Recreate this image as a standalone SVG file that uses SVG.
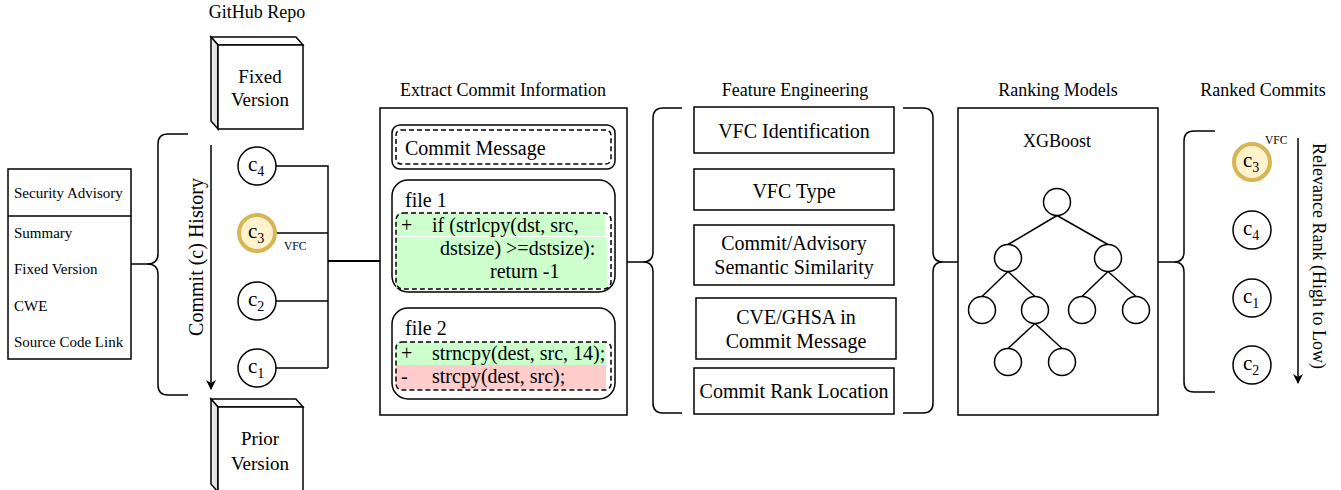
<svg xmlns="http://www.w3.org/2000/svg" width="1341" height="490" viewBox="0 0 1341 490">
<defs>
<style>
text{font-family:"Liberation Serif","Times New Roman",serif;fill:#000}
.ttl{font-size:18px}
.t20{font-size:20px}
.t19{font-size:19px}
.t15{font-size:15px}
.vfc{font-size:11.5px}
.cc{font-size:21px}
.sub{font-size:14px}
.box{fill:#fff;stroke:#000;stroke-width:1.5}
.ln{fill:none;stroke:#000;stroke-width:1.5}
.circ{fill:#fff;stroke:#000;stroke-width:1.5}
.gold{fill:#fff2cc;stroke:#d6b656;stroke-width:4}
.dash{fill:none;stroke:#000;stroke-width:1.5;stroke-dasharray:5 3}
.mid{text-anchor:middle}
</style>
<linearGradient id="side" x1="0" y1="0" x2="1" y2="0">
<stop offset="0" stop-color="#f2f2f2"/>
<stop offset="1" stop-color="#d9d9d9"/>
</linearGradient>
<marker id="arr" viewBox="0 0 10 10" refX="9" refY="5" markerWidth="10" markerHeight="10" markerUnits="userSpaceOnUse" orient="auto">
<path d="M0,0 L10,5 L0,10 L3,5 Z" fill="#000"/>
</marker>
</defs>
<rect width="1341" height="490" fill="#fff"/>

<g id="connectors">
<path class="ln" d="M131,264 L147,264 Q158,264 158,254 L158,144 Q158,134 168,134 L188,134 M147,264 Q158,264 158,274 L158,385 Q158,395 168,395 L188,395"/>
<path class="ln" d="M276,166 L328,166 L328,368 M276,233 L328,233 M276,301 L328,301 M276,368 L328,368"/>
<path class="ln" style="stroke-width:2" d="M328,261 L380,261"/>
<path class="ln" d="M627,262 L643,262 Q653,262 653,252 L653,118 Q653,108 663,108 L682,108 M643,262 Q653,262 653,272 L653,403 Q653,413 663,413 L682,413"/>
<path class="ln" d="M958,262 L943,262 Q933,262 933,252 L933,118 Q933,108 923,108 L903,108 M943,262 Q933,262 933,272 L933,403 Q933,413 923,413 L903,413"/>
<path class="ln" d="M1158,262 L1174,262 Q1184,262 1184,252 L1184,141 Q1184,131 1194,131 L1215,131 M1174,262 Q1184,262 1184,272 L1184,382 Q1184,392 1194,392 L1215,392"/>
<line class="ln" x1="211" y1="145" x2="211" y2="389" marker-end="url(#arr)"/>
<line class="ln" x1="1298" y1="138" x2="1298" y2="383" marker-end="url(#arr)"/>
</g>

<text class="ttl mid" x="257" y="18">GitHub Repo</text>

<g id="fixed-version">
<polygon points="211,37 296,37 303,45 218,45" fill="#fff" stroke="#000" stroke-width="1.5"/>
<polygon points="211,37 218,45 218,129 211,121" fill="url(#side)" stroke="#000" stroke-width="1.5"/>
<rect class="box" x="218" y="45" width="85" height="84"/>
<text class="t19 mid" x="260" y="83">Fixed</text>
<text class="t19 mid" x="260" y="106">Version</text>
</g>

<g id="prior-version">
<polygon points="211,399 296,399 303,407 218,407" fill="#fff" stroke="#000" stroke-width="1.5"/>
<polygon points="211,399 218,407 218,492 211,484" fill="url(#side)" stroke="#000" stroke-width="1.5"/>
<rect class="box" x="218" y="407" width="85" height="85"/>
<text class="t19 mid" x="260" y="445">Prior</text>
<text class="t19 mid" x="260" y="470">Version</text>
</g>

<g id="security-advisory">
<rect class="box" x="8" y="169" width="123" height="190"/>
<line class="ln" x1="8" y1="216" x2="131" y2="216"/>
<text class="t15" x="14" y="198">Security Advisory</text>
<text class="t15" x="14" y="238">Summary</text>
<text class="t15" x="14" y="274">Fixed Version</text>
<text class="t15" x="14" y="311">CWE</text>
<text class="t15" x="14" y="347">Source Code Link</text>
</g>

<g id="commit-history-label">
<text class="t20 mid" transform="translate(203,257) rotate(-90)">Commit (c) History</text>
</g>

<g id="c4">
<circle class="circ" cx="257" cy="166" r="19"/>
<text class="cc" x="248" y="171">c<tspan class="sub" dy="5">4</tspan></text>
</g>
<g id="c3">
<circle class="gold" cx="257" cy="233" r="18"/>
<text class="cc" x="248" y="238">c<tspan class="sub" dy="5">3</tspan></text>
<text class="vfc" x="284" y="250">VFC</text>
</g>
<g id="c2">
<circle class="circ" cx="257" cy="301" r="19"/>
<text class="cc" x="248" y="306">c<tspan class="sub" dy="5">2</tspan></text>
</g>
<g id="c1">
<circle class="circ" cx="257" cy="368" r="19"/>
<text class="cc" x="248" y="373">c<tspan class="sub" dy="5">1</tspan></text>
</g>

<g id="extract-commit-information">
<text class="ttl mid" x="503" y="96">Extract Commit Information</text>
<rect class="box" x="380" y="108" width="247" height="307"/>
<rect class="box" x="392" y="125" width="223" height="44" rx="8"/>
<rect class="dash" x="396" y="130" width="215" height="34" rx="5"/>
<text class="t20" x="405" y="155">Commit Message</text>

<rect class="box" x="392" y="180" width="223" height="112" rx="16"/>
<text class="t20" x="405" y="207">file 1</text>
<rect x="396" y="213" width="209" height="23" fill="#ccffcc"/>
<rect x="396" y="237" width="211" height="51" fill="#ccffcc"/>
<rect class="dash" x="396" y="213" width="215" height="76" rx="7"/>
<text class="t20" x="401" y="232">+</text>
<text class="t20" x="432" y="232">if (strlcpy(dst, src,</text>
<text class="t20" x="440" y="255">dstsize) &gt;=dstsize):</text>
<text class="t20" x="490" y="278">return -1</text>

<rect class="box" x="392" y="308" width="223" height="91" rx="16"/>
<text class="t20" x="405" y="335">file 2</text>
<rect x="396" y="342" width="210" height="23" fill="#ccffcc"/>
<rect x="396" y="365" width="210" height="24" fill="#ffcccc"/>
<rect class="dash" x="396" y="342" width="215" height="48" rx="6"/>
<text class="t20" x="401" y="360">+</text>
<text class="t20" x="432" y="360">strncpy(dest, src, 14);</text>
<text class="t20" x="401" y="383">-</text>
<text class="t20" x="432" y="383">strcpy(dest, src);</text>
</g>

<text class="ttl mid" x="795" y="96">Feature Engineering</text>
<g id="fe-vfc-identification">
<rect class="box" x="694" y="107" width="200" height="46"/>
<text class="t20 mid" x="794" y="138">VFC Identification</text>
</g>
<g id="fe-vfc-type">
<rect class="box" x="694" y="169" width="200" height="41"/>
<text class="t20 mid" x="794" y="198">VFC Type</text>
</g>
<g id="fe-semantic-similarity">
<rect class="box" x="694" y="225" width="200" height="60"/>
<text class="t20 mid" x="794" y="250">Commit/Advisory</text>
<text class="t20 mid" x="794" y="274">Semantic Similarity</text>
</g>
<g id="fe-cve-ghsa">
<rect class="box" x="696" y="298" width="200" height="61"/>
<text class="t20 mid" x="796" y="324">CVE/GHSA in</text>
<text class="t20 mid" x="796" y="348">Commit Message</text>
</g>
<g id="fe-commit-rank-location">
<rect class="box" x="694" y="368" width="200" height="46"/>
<text class="t20 mid" x="794" y="398">Commit Rank Location</text>
</g>

<g id="ranking-models">
<text class="ttl mid" x="1058" y="96">Ranking Models</text>
<rect class="box" x="958" y="108" width="200" height="307"/>
<text class="ttl mid" x="1057" y="147">XGBoost</text>
<path class="ln" d="M1057,215.5 L1008,244.5 M1057,215.5 L1108,244.5 M1008,271.5 L982,296.5 M1008,271.5 L1035,296.5 M1108,271.5 L1082,296.5 M1108,271.5 L1136,296.5 M1035,323.5 L1008,348.5 M1035,323.5 L1062,348.5"/>
<circle class="circ" cx="1057" cy="202" r="13.5"/>
<circle class="circ" cx="1008" cy="258" r="13.5"/>
<circle class="circ" cx="1108" cy="258" r="13.5"/>
<circle class="circ" cx="982" cy="310" r="13.5"/>
<circle class="circ" cx="1035" cy="310" r="13.5"/>
<circle class="circ" cx="1082" cy="310" r="13.5"/>
<circle class="circ" cx="1136" cy="310" r="13.5"/>
<circle class="circ" cx="1008" cy="362" r="13.5"/>
<circle class="circ" cx="1062" cy="362" r="13.5"/>
</g>

<text class="ttl mid" x="1263" y="96">Ranked Commits</text>
<g id="rc3">
<circle class="gold" cx="1252" cy="162" r="18"/>
<text class="cc" x="1243" y="167">c<tspan class="sub" dy="5">3</tspan></text>
<text class="vfc" x="1265" y="144">VFC</text>
</g>
<g id="rc4">
<circle class="circ" cx="1252" cy="230" r="19"/>
<text class="cc" x="1243" y="235">c<tspan class="sub" dy="5">4</tspan></text>
</g>
<g id="rc1">
<circle class="circ" cx="1252" cy="298" r="19"/>
<text class="cc" x="1243" y="303">c<tspan class="sub" dy="5">1</tspan></text>
</g>
<g id="rc2">
<circle class="circ" cx="1252" cy="365" r="19"/>
<text class="cc" x="1243" y="370">c<tspan class="sub" dy="5">2</tspan></text>
</g>
<g id="relevance-label">
<text class="ttl mid" transform="translate(1313,256) rotate(90)">Relevance Rank (High to Low)</text>
</g>
</svg>
